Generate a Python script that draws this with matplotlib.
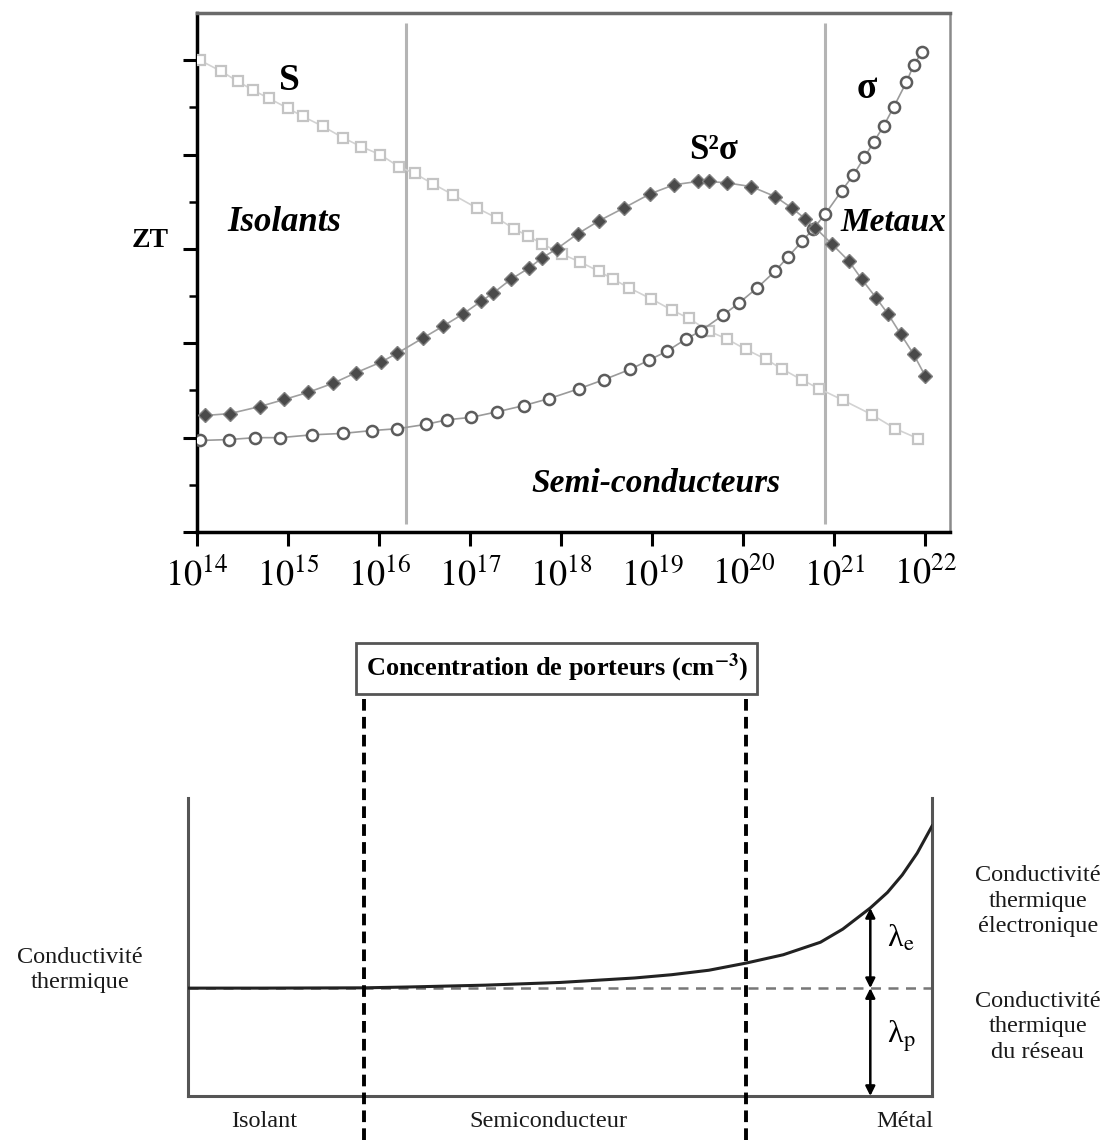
import numpy as np
import matplotlib
matplotlib.use("Agg")
import matplotlib.pyplot as plt
from matplotlib.ticker import LogLocator, NullFormatter, FixedLocator

plt.rcParams['font.family'] = 'serif'
plt.rcParams['font.serif'] = ['Liberation Serif', 'DejaVu Serif']
plt.rcParams['mathtext.fontset'] = 'stix'

# --- courbe du haut : S, sigma, S^2 sigma en fonction de la concentration (log10 n)
s_logn = [14.03, 14.26, 14.45, 14.62, 14.79, 15.00, 15.16, 15.38, 15.60, 15.80,
          16.01, 16.22, 16.39, 16.59, 16.81, 17.07, 17.29, 17.48, 17.63, 17.79,
          18.01, 18.21, 18.41, 18.57, 18.75, 18.99, 19.22, 19.40, 19.62, 19.82,
          20.03, 20.25, 20.43, 20.64, 20.83, 21.10, 21.41, 21.67, 21.92]
s_val = [10.00, 9.77, 9.55, 9.36, 9.19, 8.98, 8.81, 8.60, 8.36, 8.17,
         8.00, 7.74, 7.60, 7.38, 7.15, 6.87, 6.66, 6.43, 6.28, 6.11,
         5.89, 5.72, 5.53, 5.36, 5.17, 4.94, 4.70, 4.53, 4.26, 4.09,
         3.87, 3.66, 3.45, 3.23, 3.04, 2.79, 2.49, 2.19, 1.98]

sig_logn = [14.03, 14.35, 14.64, 14.91, 15.26, 15.60, 15.92, 16.20, 16.51, 16.75,
            17.01, 17.30, 17.59, 17.87, 18.20, 18.47, 18.76, 18.96, 19.16, 19.37,
            19.53, 19.78, 19.95, 20.15, 20.35, 20.49, 20.65, 20.77, 20.90, 21.08,
            21.21, 21.33, 21.43, 21.54, 21.65, 21.79, 21.87, 21.96]
sig_val = [1.94, 1.96, 2.00, 2.00, 2.06, 2.09, 2.15, 2.19, 2.28, 2.38,
           2.43, 2.55, 2.68, 2.83, 3.04, 3.23, 3.45, 3.64, 3.83, 4.09,
           4.26, 4.60, 4.85, 5.17, 5.53, 5.83, 6.17, 6.43, 6.74, 7.23,
           7.57, 7.94, 8.26, 8.60, 9.00, 9.53, 9.89, 10.17]

pf_logn = [14.09, 14.36, 14.69, 14.96, 15.22, 15.49, 15.75, 16.02, 16.20, 16.48,
           16.70, 16.92, 17.12, 17.25, 17.45, 17.65, 17.79, 17.95, 18.18, 18.42,
           18.69, 18.98, 19.24, 19.50, 19.62, 19.82, 20.09, 20.35, 20.53, 20.68,
           20.79, 20.97, 21.16, 21.30, 21.46, 21.59, 21.73, 21.87, 22.00]
pf_val = [2.47, 2.51, 2.66, 2.81, 2.96, 3.15, 3.38, 3.60, 3.79, 4.11,
          4.36, 4.62, 4.89, 5.06, 5.36, 5.60, 5.81, 6.00, 6.32, 6.60,
          6.87, 7.17, 7.36, 7.43, 7.43, 7.40, 7.32, 7.11, 6.87, 6.64,
          6.45, 6.11, 5.74, 5.36, 4.96, 4.62, 4.19, 3.77, 3.30]

limites = [16.30, 20.90]   # isolant / semi-conducteur / metal
decades = list(range(14, 23))

# --- courbe du bas : conductivite thermique (unites arbitraires)
lam_x = [0.0, 0.1, 0.237, 0.3, 0.4, 0.5, 0.6, 0.65, 0.7, 0.75, 0.8, 0.85, 0.88,
         0.917, 0.94, 0.96, 0.98, 1.0]
lam_y = [0.362, 0.362, 0.363, 0.366, 0.372, 0.381, 0.396, 0.407, 0.422, 0.446, 0.474,
         0.516, 0.560, 0.631, 0.683, 0.742, 0.815, 0.906]
lam_reseau = 0.362
lim_bas = [0.237, 0.75]
x_fleche = 0.917

fig = plt.figure(figsize=(11.2, 11.4), dpi=100)

# ================= haut
ax = fig.add_axes([0.1759, 0.5333, 0.6723, 0.4553])
ax.set_xscale('log')
ax.set_xlim(1e14, 10 ** 22.27)
ax.set_ylim(0, 11)

ax.plot([10 ** v for v in s_logn], s_val, color='#d2d2d2', lw=1.2, marker='s', ms=7.5,
        mfc='white', mec='#c4c4c4', mew=1.6, zorder=3)
ax.plot([10 ** v for v in sig_logn], sig_val, color='#9a9a9a', lw=1.2, marker='o', ms=8,
        mfc='white', mec='#5c5c5c', mew=1.8, zorder=4)
ax.plot([10 ** v for v in pf_logn], pf_val, color='#a0a0a0', lw=1.2, marker='D', ms=7,
        mfc='#4a4a4a', mec='#808080', mew=1.0, zorder=5)

ax.vlines([10 ** v for v in limites], 0.17, 10.79, color='#b4b4b4', lw=2.2, zorder=2)

ax.set_xticks([10.0 ** d for d in decades])
ax.set_xticklabels([r'$10^{%d}$' % d for d in decades])
ax.xaxis.set_minor_locator(LogLocator(base=10, subs=np.arange(2, 10)))
ax.xaxis.set_minor_formatter(NullFormatter())
ax.tick_params(axis='x', which='major', direction='out', length=10, width=2.2,
               labelsize=26, pad=8)
ax.tick_params(axis='x', which='minor', direction='out', length=5, width=1.5)

ax.yaxis.set_major_locator(FixedLocator([0, 2, 4, 6, 8, 10]))
ax.yaxis.set_minor_locator(FixedLocator([1, 3, 5, 7, 9]))
ax.tick_params(axis='y', which='major', direction='out', length=10, width=2.2, labelleft=False)
ax.tick_params(axis='y', which='minor', direction='out', length=6, width=1.8)

ax.spines['left'].set_linewidth(2.5)
ax.spines['bottom'].set_linewidth(2.5)
ax.spines['top'].set_color('#6a6a6a')
ax.spines['top'].set_linewidth(2.5)
ax.spines['right'].set_color('#8a8a8a')
ax.spines['right'].set_linewidth(1.8)

ax.text(10 ** 15.02, 9.57, 'S', fontsize=27, fontweight='bold', ha='center', va='center')
ax.text(10 ** 14.96, 6.55, 'Isolants', fontsize=25, fontweight='bold', style='italic',
        ha='center', va='center')
ax.text(10 ** 19.67, 8.09, 'S²σ', fontsize=25, fontweight='bold',
        ha='center', va='center')
ax.text(10 ** 21.36, 9.40, 'σ', fontsize=27, fontweight='bold', ha='center', va='center')
ax.text(10 ** 21.65, 6.55, 'Metaux', fontsize=24, fontweight='bold', style='italic',
        ha='center', va='center')
ax.text(10 ** 19.04, 1.02, 'Semi-conducteurs', fontsize=24, fontweight='bold', style='italic',
        ha='center', va='center')

fig.text(0.134, 0.789, 'ZT', fontsize=20, fontweight='bold', ha='center', va='center')

fig.text(0.497, 0.414, 'Concentration de porteurs (cm$^{\\mathbf{-3}}$)', fontsize=19,
         fontweight='bold', ha='center', va='center',
         bbox=dict(boxstyle='square,pad=0.35', fc='white', ec='#555555', lw=2))

# ================= bas
bx = fig.add_axes([0.1679, 0.0386, 0.6643, 0.2614])
bx.set_xlim(0, 1)
bx.set_ylim(0, 1)
bx.set_xticks([])
bx.set_yticks([])
bx.spines['top'].set_visible(False)
for sp in ['left', 'right', 'bottom']:
    bx.spines[sp].set_color('#555555')
    bx.spines[sp].set_linewidth(2.2)

bx.axhline(lam_reseau, color='#777777', lw=1.8, ls=(0, (4, 3)), zorder=2)
bx.plot(lam_x, lam_y, color='#222222', lw=2.2, zorder=3)

for xv in lim_bas:
    bx.plot([xv, xv], [-0.148, 1.339], color='black', lw=2.8, ls=(0, (3, 1.6)),
            clip_on=False, zorder=4)

ye = np.interp(x_fleche, lam_x, lam_y)
bx.annotate('', xy=(x_fleche, ye), xytext=(x_fleche, lam_reseau),
            arrowprops=dict(arrowstyle='<|-|>', color='black', lw=1.8,
                            shrinkA=0, shrinkB=0, mutation_scale=14))
bx.annotate('', xy=(x_fleche, lam_reseau), xytext=(x_fleche, 0),
            arrowprops=dict(arrowstyle='<|-|>', color='black', lw=1.8,
                            shrinkA=0, shrinkB=0, mutation_scale=14))
bx.text(0.958, 0.527, 'λ$_\\mathrm{e}$', fontsize=23, ha='center', va='center')
bx.text(0.958, 0.201, 'λ$_\\mathrm{p}$', fontsize=23, ha='center', va='center')

txt = dict(fontsize=17.5, ha='center', va='center', color='#1a1a1a')
bx.text(0.103, -0.087, 'Isolant', **txt)
bx.text(0.484, -0.087, 'Semiconducteur', **txt)
bx.text(0.964, -0.087, 'Métal', **txt)

bx.text(1.142, 0.654, 'Conductivité\nthermique\nélectronique', linespacing=1.3, **txt)
bx.text(1.142, 0.232, 'Conductivité\nthermique\ndu réseau', linespacing=1.3, **txt)
bx.text(-0.145, 0.423, 'Conductivité\nthermique', linespacing=1.3, **txt)

fig.savefig('out.png', dpi=100)
